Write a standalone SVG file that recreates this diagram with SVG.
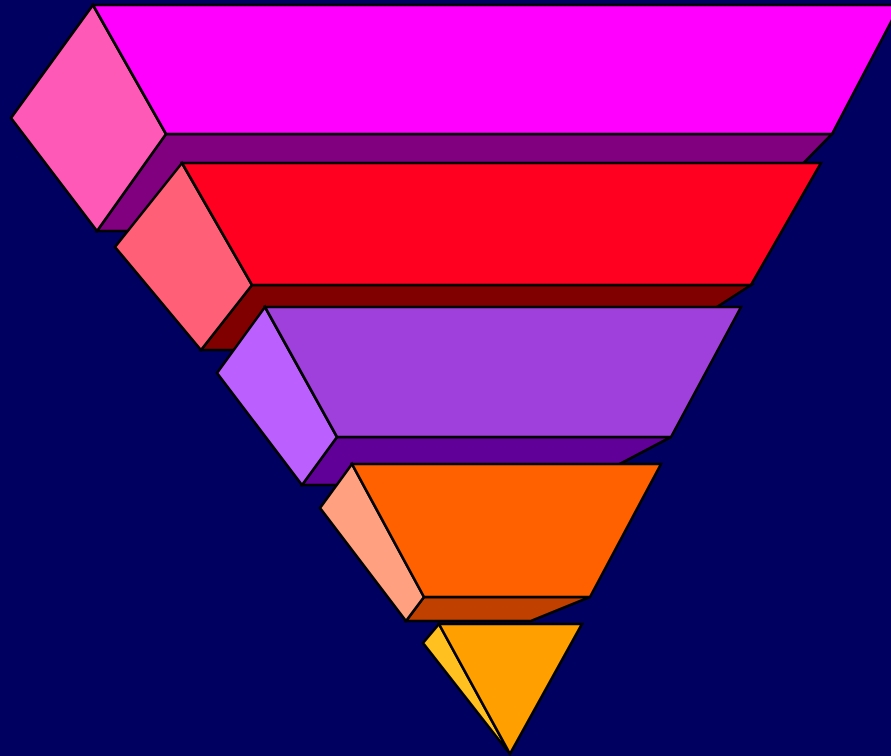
<svg xmlns="http://www.w3.org/2000/svg" width="891" height="756" viewBox="0 0 891 756">
<style>
polygon{stroke:#000;stroke-width:2.6;stroke-linejoin:miter}
</style>
<rect width="891" height="756" fill="#000060"/>
<g id="tier1">
<polygon points="166,134 832,134 737,231 97,231" fill="#800080"/>
<polygon points="93,5 166,134 97,231 11,118" fill="#FF59B8"/>
<polygon points="93,5 900,5 832,134 166,134" fill="#FF00FF"/>
</g>
<g id="tier2">
<polygon points="252,285 751,285 650,350 201,350" fill="#800000"/>
<polygon points="182,163 252,285 201,350 115,247" fill="#FF6078"/>
<polygon points="182,163 821,163 751,285 252,285" fill="#FF0020"/>
</g>
<g id="tier3">
<polygon points="337,437 671,437 580,485 302,485" fill="#600098"/>
<polygon points="265,307 337,437 302,485 217,373" fill="#BB60FF"/>
<polygon points="265,307 741,307 671,437 337,437" fill="#A040DC"/>
</g>
<g id="tier4">
<polygon points="424,597 590,597 531,621 406,621" fill="#C04000"/>
<polygon points="352,464 424,597 406,621 320,508" fill="#FFA080"/>
<polygon points="352,464 661,464 590,597 424,597" fill="#FF6000"/>
</g>
<g id="tier5">
<polygon points="439,624 510,754 423,643" fill="#FFC020"/>
<polygon points="439,624 582,624 510,754" fill="#FFA000"/>
</g>
<g id="connectors"/>
</svg>
